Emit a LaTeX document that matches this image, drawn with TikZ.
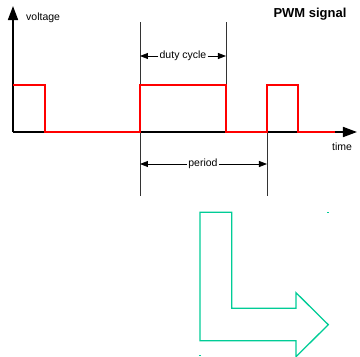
\documentclass[tikz,border=0pt]{standalone}
\usepackage{fontspec}
\setmainfont{Liberation Sans}
\usetikzlibrary{arrows.meta}
\definecolor{pwmgreen}{RGB}{0,204,150}
\tikzset{
  axis/.style={draw=black, line width=1.6pt, -{Triangle[length=14pt,width=10pt]}},
  marker/.style={draw=black!80, line width=0.8pt},
  dimline/.style={draw=black, line width=0.8pt, -{Triangle[length=8pt,width=6pt]}},
  signal/.style={draw=red, line width=1.6pt},
  label/.style={inner sep=1pt, font=\fontsize{10.5}{12}\selectfont}
}
\begin{document}
\begin{tikzpicture}[x=1pt,y=-1pt]
        \useasboundingbox (0,0) rectangle (360,357);
        \begin{scope}
          % axes
          \coordinate (o) at (13,132);
          \coordinate (ytop) at (13,6);
          \coordinate (xend) at (357,132);
          \path[axis] (o) -- (ytop);
          \path[axis] (o) -- (xend);
          \node[label, anchor=west] (voltage) at (25,18) {voltage};
          \node[label] (time) at (342,147) {time};
          \node[inner sep=1pt, font=\fontsize{13}{15}\selectfont\bfseries] (title) at (310,14.5) {PWM signal};
        \end{scope}
        \begin{scope}
          % marker lines
          \coordinate (m1top) at (140,22);
          \coordinate (m1bot) at (140,196);
          \coordinate (m2top) at (226,22);
          \coordinate (m2bot) at (226,132);
          \coordinate (m3top) at (267,132);
          \coordinate (m3bot) at (267,196);
          \path[marker] (m1top) -- (m1bot);
          \path[marker] (m2top) -- (m2bot);
          \path[marker] (m3top) -- (m3bot);
        \end{scope}
        \begin{scope}
          % signal
          \coordinate (s0) at (13,85);
          \coordinate (s1) at (45,85);
          \coordinate (s2) at (45,132);
          \coordinate (s3) at (140,132);
          \coordinate (s4) at (140,85);
          \coordinate (s5) at (226,85);
          \coordinate (s6) at (226,132);
          \coordinate (s7) at (267,132);
          \coordinate (s8) at (267,85);
          \coordinate (s9) at (298,85);
          \coordinate (s10) at (298,132);
          \coordinate (s11) at (335,132);
          \path[signal] (s0) -- (s1) -- (s2) -- (s3) -- (s4) -- (s5) -- (s6)
            -- (s7) -- (s8) -- (s9) -- (s10) -- (s11);
        \end{scope}
        \begin{scope}
          % dimensions
          \node[label] (duty) at (183,56) {duty cycle};
          \coordinate (dl) at (140,56);
          \coordinate (dr) at (226,56);
          \path[dimline] (duty.west) -- (dl);
          \path[dimline] (duty.east) -- (dr);
          \node[label] (period) at (203,164) {period};
          \coordinate (pl) at (140,164);
          \coordinate (pr) at (267,164);
          \path[dimline] (period.west) -- (pl);
          \path[dimline] (period.east) -- (pr);
        \end{scope}
        \begin{scope}[every path/.style={draw=pwmgreen, line width=1.3pt}]
          % bent arrow
          \path (200,212.3) -- (231.7,212.3) -- (231.7,308.3) -- (296,308.3)
            -- (296,292.7) -- (328.3,324.7) -- (296,356.7) -- (296,340.7)
            -- (200,340.7) -- cycle;
          \path (327.3,212.3) -- (329.3,212.3);
          \path (199,355.8) -- (201,355.8);
        \end{scope}
      \end{tikzpicture}
\end{document}
